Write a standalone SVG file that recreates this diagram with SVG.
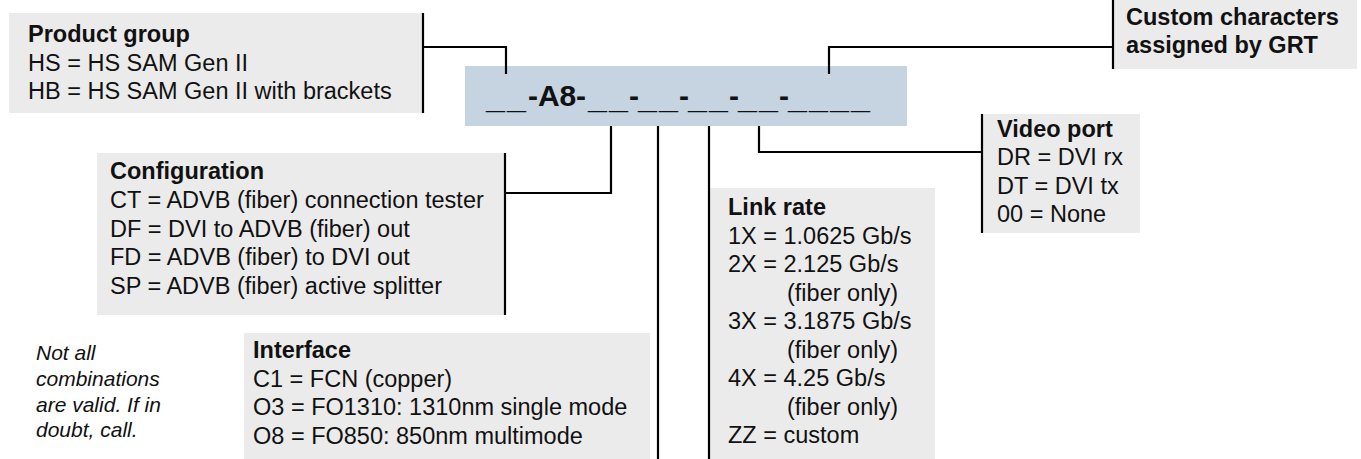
<svg xmlns="http://www.w3.org/2000/svg" width="1361" height="459" viewBox="0 0 1361 459">
<style>
.box{fill:#ebebeb}
.code{fill:#c6d4e2}
.t{font-family:"Liberation Sans",Arial,sans-serif;font-size:23.5px;fill:#111}
.b{font-weight:bold}
.it{font-family:"Liberation Sans",Arial,sans-serif;font-size:21px;font-style:italic;fill:#111}
.ct{font-family:"Liberation Sans",Arial,sans-serif;font-size:30px;font-weight:bold;fill:#111}
.u{font-size:34px}
.ln{fill:none;stroke:#000;stroke-width:2.2}
</style>
<rect width="1361" height="459" fill="#fff"/>
<g id="code">
<rect class="code" x="465" y="66" width="442" height="60"/>
<text class="ct" y="106"><tspan class="u" x="486 507" y="108">__</tspan><tspan x="528 538 559.5 576" y="106">-A8-</tspan><tspan class="u" x="588 609" y="108">__</tspan><tspan x="629" y="106">-</tspan><tspan class="u" x="638 659" y="108">__</tspan><tspan x="679" y="106">-</tspan><tspan class="u" x="688 709" y="108">__</tspan><tspan x="729" y="106">-</tspan><tspan class="u" x="738 759" y="108">__</tspan><tspan x="779" y="106">-</tspan><tspan class="u" x="788 809 830 851" y="108">____</tspan></text>
</g>
<g id="product-group">
<rect class="box" x="9" y="13" width="414" height="100"/>
<text class="t b" x="28" y="42">Product group</text>
<text class="t" x="28" y="71">HS = HS SAM Gen II</text>
<text class="t" x="28" y="99">HB = HS SAM Gen II with brackets</text>
</g>
<g id="custom">
<rect class="box" x="1113" y="0" width="244" height="69"/>
<text class="t b" x="1126" y="25">Custom characters</text>
<text class="t b" x="1126" y="53">assigned by GRT</text>
</g>
<g id="configuration">
<rect class="box" x="97" y="153" width="408" height="162"/>
<text class="t b" x="110" y="179">Configuration</text>
<text class="t" x="110" y="208">CT = ADVB (fiber) connection tester</text>
<text class="t" x="110" y="237">DF = DVI to ADVB (fiber) out</text>
<text class="t" x="110" y="265">FD = ADVB (fiber) to DVI out</text>
<text class="t" x="110" y="294">SP = ADVB (fiber) active splitter</text>
</g>
<g id="interface">
<rect class="box" x="244" y="333" width="406" height="126"/>
<text class="t b" x="253" y="358">Interface</text>
<text class="t" x="253" y="387">C1 = FCN (copper)</text>
<text class="t" x="253" y="415">O3 = FO1310: 1310nm single mode</text>
<text class="t" x="253" y="444">O8 = FO850: 850nm multimode</text>
</g>
<g id="link-rate">
<rect class="box" x="710" y="188" width="225" height="271"/>
<text class="t b" x="728" y="215">Link rate</text>
<text class="t" x="728" y="244">1X = 1.0625 Gb/s</text>
<text class="t" x="728" y="272">2X = 2.125 Gb/s</text>
<text class="t" x="787" y="301">(fiber only)</text>
<text class="t" x="728" y="329">3X = 3.1875 Gb/s</text>
<text class="t" x="787" y="358">(fiber only)</text>
<text class="t" x="728" y="386">4X = 4.25 Gb/s</text>
<text class="t" x="787" y="415">(fiber only)</text>
<text class="t" x="728" y="443">ZZ = custom</text>
</g>
<g id="video-port">
<rect class="box" x="982" y="114" width="158" height="119"/>
<text class="t b" x="997" y="137">Video port</text>
<text class="t" x="997" y="165">DR = DVI rx</text>
<text class="t" x="997" y="194">DT = DVI tx</text>
<text class="t" x="997" y="222">00 = None</text>
</g>
<g id="note">
<text class="it" x="36" y="360">Not all</text>
<text class="it" x="36" y="386">combinations</text>
<text class="it" x="36" y="412">are valid. If in</text>
<text class="it" x="36" y="437">doubt, call.</text>
</g>
<g id="connectors">
<path class="ln" d="M423,13 V113 M423,47 H506 V74"/>
<path class="ln" d="M1113,0 V69 M829,74 V47 H1113"/>
<path class="ln" d="M505,153 V315 M505,193 H611 V126"/>
<path class="ln" d="M658,126 V459"/>
<path class="ln" d="M709,126 V459"/>
<path class="ln" d="M982,114 V233 M759,126 V152 H982"/>
</g>
</svg>
